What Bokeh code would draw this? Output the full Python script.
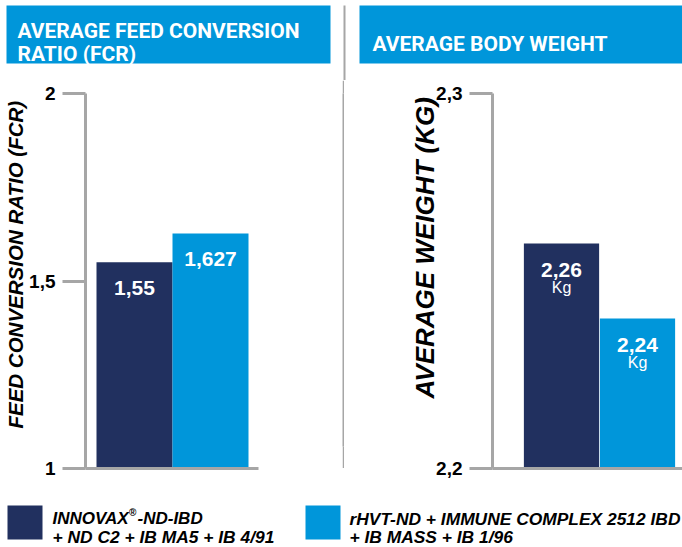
from bokeh.plotting import figure
from bokeh.models import (Range1d, FixedTicker, ColumnDataSource, LabelSet, Title)
from bokeh.layouts import row, column
from bokeh.embed import file_html
from bokeh.resources import INLINE
from bokeh.core.properties import value

# ---------------- data ----------------
legend_line1 = ["INNOVAX®-ND-IBD", "rHVT-ND + IMMUNE COMPLEX 2512 IBD"]
legend_line2 = ["+ ND C2 + IB MA5 + IB 4/91", "+ IB MASS + IB 1/96"]
bar_index = [0, 1]

fcr_title = ["AVERAGE FEED CONVERSION", "RATIO (FCR)"]
fcr_axis_title = "FEED CONVERSION RATIO (FCR)"
fcr_values = [1.55, 1.627]
fcr_labels = ["1,55", "1,627"]
fcr_ticks = [1, 1.5, 2]
fcr_tick_labels = ["1", "1,5", "2"]

bw_title = "AVERAGE BODY WEIGHT"
bw_axis_title = "AVERAGE WEIGHT (KG)"
bw_values = [2.26, 2.24]
bw_labels = ["2,26", "2,24"]
bw_units = ["Kg", "Kg"]
bw_ticks = [2.2, 2.3]
bw_tick_labels = ["2,2", "2,3"]

colors = ["#21305f", "#0096da"]

# ---------------- style ----------------
W = 682
HEAD_H = 80
MID_H = 410
LEG_H = 57
BLUE = "#0096da"
GRAY = "#a6a6a6"
FONT = "Liberation Sans"
TITLE_FONT = "Roboto"


def blank(width, height, y0, y1):
    """decoration figure whose frame covers the whole canvas (top-origin pixels)"""
    p = figure(width=width, height=height, output_backend="svg", toolbar_location=None,
               x_range=Range1d(0, width), y_range=Range1d(y1, y0),
               x_axis_location=None, y_axis_location=None,
               min_border_left=0, min_border_right=0, min_border_top=0, min_border_bottom=0)
    p.outline_line_color = None
    p.grid.visible = False
    return p


# ---------------- header (titles) ----------------
head = blank(W, HEAD_H, 0, HEAD_H)
head.quad(left=[6, 359], right=[330, 682], top=[5, 5], bottom=[63, 63],
          fill_color=BLUE, line_color=None)
head.quad(left=[343], right=[345], top=[5], bottom=[HEAD_H], fill_color=GRAY, line_color=None)
head.text(x=[17, 17, 372], y=[30, 53.5, 43], text=[fcr_title[0], fcr_title[1], bw_title],
          text_color="white", text_font=value(TITLE_FONT), text_font_size="21px",
          text_font_style="bold", text_baseline="alphabetic", text_align="left")


# ---------------- chart panels ----------------
def make_panel(width, border_left, border_right, x_start, x_end, ticks, tick_labels,
               axis_title, title_size, title_offset, title_standoff):
    p = figure(width=width, height=MID_H, output_backend="svg", toolbar_location=None,
               x_range=Range1d(x_start, x_end),
               y_range=Range1d(ticks[0], ticks[-1]),
               min_border_left=border_left, min_border_right=border_right,
               min_border_top=93 - HEAD_H, min_border_bottom=HEAD_H + MID_H - 468)
    p.outline_line_color = None
    p.grid.visible = False

    ya = p.yaxis[0]
    ya.ticker = FixedTicker(ticks=ticks)
    ya.major_label_overrides = {t: s for t, s in zip(ticks, tick_labels)}
    ya.major_tick_out = 23
    ya.major_tick_in = 0
    ya.minor_tick_line_color = None
    ya.major_tick_line_color = GRAY
    ya.major_tick_line_width = 3
    ya.axis_line_color = GRAY
    ya.axis_line_width = 3
    ya.major_label_standoff = 7
    ya.major_label_text_font = FONT
    ya.major_label_text_font_size = "19px"
    ya.major_label_text_font_style = "bold"
    ya.major_label_text_color = "black"

    xa = p.xaxis[0]
    xa.ticker = FixedTicker(ticks=[])
    xa.major_tick_line_color = None
    xa.minor_tick_line_color = None
    xa.major_label_text_font_size = "0px"
    xa.axis_line_color = GRAY
    xa.axis_line_width = 3

    p.add_layout(Title(text=axis_title, align="left", offset=title_offset,
                       standoff=title_standoff,
                       text_font=FONT, text_font_size=title_size,
                       text_font_style="bold italic", text_color="black"), "left")
    return p


pA = make_panel(342, 85, 84, -49 / 76, 124 / 76, fcr_ticks, fcr_tick_labels,
                fcr_axis_title, "20.5px", 40, 0)
srcA = ColumnDataSource(dict(x=bar_index, top=fcr_values, color=colors, label=fcr_labels))
pA.vbar(x="x", top="top", bottom=fcr_ticks[0], width=1, fill_color="color",
        line_color=None, source=srcA)
pA.add_layout(LabelSet(x="x", y="top", text="label", source=srcA, y_offset=-33,
                       text_align="center", text_baseline="alphabetic",
                       text_color="white", text_font=value(FONT),
                       text_font_size=value("21px"), text_font_style="bold"))

sep = blank(2, 468 - HEAD_H, 0, 468 - HEAD_H)
sep.background_fill_color = GRAY
sep.border_fill_color = GRAY

pB = make_panel(338, 148, 0, -69 / 76, 121 / 76, bw_ticks, bw_tick_labels,
                bw_axis_title, "26px", 70, -13)
srcB = ColumnDataSource(dict(x=bar_index, top=bw_values, color=colors,
                             label=bw_labels, unit=bw_units))
pB.vbar(x="x", top="top", bottom=bw_ticks[0], width=0.99, fill_color="color",
        line_color=None, source=srcB)
pB.add_layout(LabelSet(x="x", y="top", text="label", source=srcB, y_offset=-33,
                       text_align="center", text_baseline="alphabetic",
                       text_color="white", text_font=value(FONT),
                       text_font_size=value("21px"), text_font_style="bold"))
pB.add_layout(LabelSet(x="x", y="top", text="unit", source=srcB, y_offset=-49,
                       text_align="center", text_baseline="alphabetic",
                       text_color="white", text_font=value(FONT),
                       text_font_size=value("16px"), text_font_style="normal"))

# ---------------- legend ----------------
leg = blank(W, LEG_H, 490, 547)
leg.quad(left=[7, 305], right=[42, 340], top=[505, 505], bottom=[539, 539],
         fill_color=colors, line_color=None)
# first entry: brand name with a raised registered mark
brand, rest = legend_line1[0].split("®")
leg.text(x=[52, 137], y=[518, 518], text=[brand, rest],
         text_color="black", text_font=value(FONT), text_font_size="17px",
         text_font_style="bold italic", text_baseline="alphabetic", text_align="left")
leg.text(x=[128.5], y=[511.5], text=["®"],
         text_color="black", text_font=value(FONT), text_font_size="10px",
         text_font_style="bold", text_baseline="alphabetic", text_align="left")
leg.text(x=[52, 349, 349], y=[536.5, 518, 536.5],
         text=[legend_line2[0], legend_line1[1], legend_line2[1]],
         text_color="black", text_font=value(FONT), text_font_size="17.4px",
         text_font_style="bold italic", text_baseline="alphabetic", text_align="left")

layout = column(head, row(pA, sep, pB), leg)
open("out.html", "w").write(file_html(layout, INLINE))
